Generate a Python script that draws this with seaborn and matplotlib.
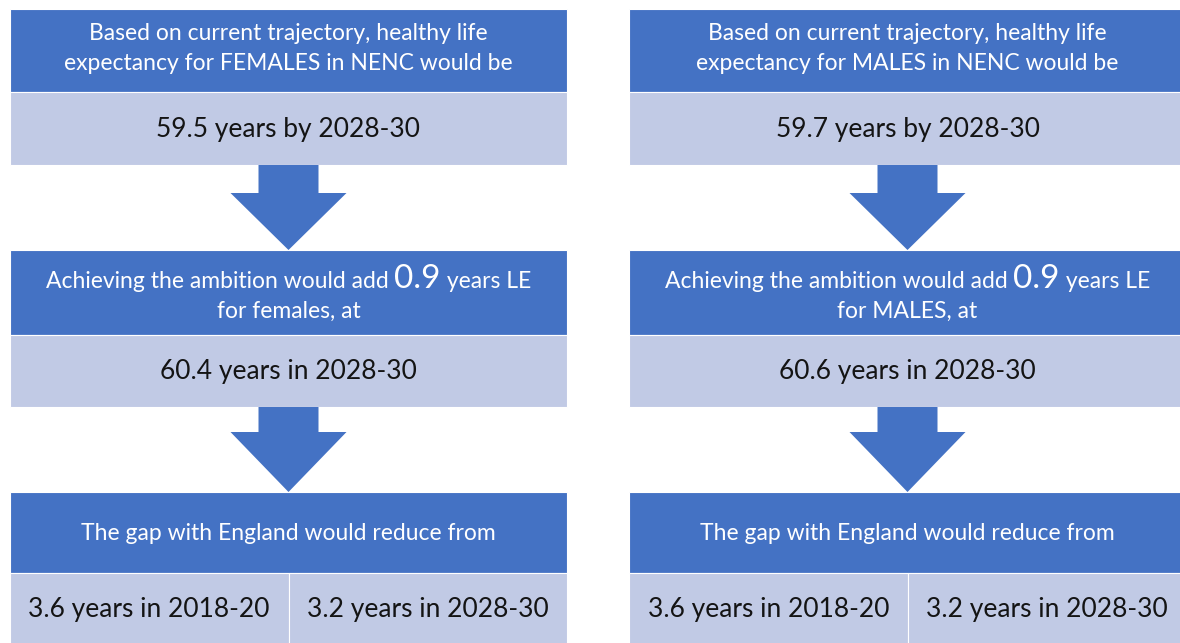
import matplotlib
matplotlib.use("Agg")
import matplotlib.pyplot as plt
import seaborn as sns
from matplotlib.patches import Rectangle, Polygon
from matplotlib.offsetbox import TextArea, HPacker, AnnotationBbox

sns.set_theme(style="white")
plt.rcParams['font.family'] = ['Lato', 'DejaVu Sans']

# content of the two flow panels
groups = ['FEMALES', 'MALES']
group_lower = ['females', 'MALES']
trajectory_hle = [59.5, 59.7]
ambition_gain = [0.9, 0.9]
ambition_hle = [60.4, 60.6]
gap_start = [3.6, 3.6]
gap_end = [3.2, 3.2]
period_now = '2018-20'
period_target = '2028-30'

BLUE = '#4472C4'
LIGHT = '#C1CAE5'
DARK_TEXT = '#141414'
HEAD_FS = 16.5
BODY_FS = 19

fig = plt.figure(figsize=(11.8, 6.43), dpi=100)
ax = fig.add_axes([0, 0, 1, 1])
ax.set_xlim(0, 1180)
ax.set_ylim(643, 0)
ax.axis('off')

panel_left = [10, 629]
panel_w = 557
# vertical layout: (top, bottom) of each block
blue1, light1 = (9, 92), (92, 165)
blue2, light2 = (250, 335), (335, 407)
blue3, light3 = (492, 573), (573, 648)
arrows = [(165, 193, 250), (407, 432, 492)]


def box(x0, y0, y1, w, color):
    ax.add_patch(Rectangle((x0, y0), w, y1 - y0, facecolor=color,
                           edgecolor='white', linewidth=0.8))


def down_arrow(cx, top, neck, tip):
    sw, hw = 30, 58
    pts = [(cx - sw, top), (cx + sw, top), (cx + sw, neck), (cx + hw, neck),
           (cx, tip), (cx - hw, neck), (cx - sw, neck)]
    ax.add_patch(Polygon(pts, closed=True, facecolor=BLUE, edgecolor='none'))


for i, g in enumerate(groups):
    x0 = panel_left[i]
    cx = x0 + panel_w / 2

    # block 1
    box(x0, *blue1, panel_w, BLUE)
    box(x0, *light1, panel_w, LIGHT)
    ax.text(cx, 33, 'Based on current trajectory, healthy life',
            color='white', fontsize=HEAD_FS, ha='center', va='center')
    ax.text(cx, 63, f'expectancy for {g} in NENC would be',
            color='white', fontsize=HEAD_FS, ha='center', va='center')
    ax.text(cx, 129, f'{trajectory_hle[i]:.1f} years by {period_target}',
            color=DARK_TEXT, fontsize=BODY_FS, ha='center', va='center')

    # block 2
    box(x0, *blue2, panel_w, BLUE)
    box(x0, *light2, panel_w, LIGHT)
    parts = HPacker(children=[
        TextArea('Achieving the ambition would add ',
                 textprops=dict(color='white', fontsize=HEAD_FS)),
        TextArea(f'{ambition_gain[i]:.1f}',
                 textprops=dict(color='white', fontsize=24)),
        TextArea(' years LE', textprops=dict(color='white', fontsize=HEAD_FS)),
    ], align='baseline', pad=0, sep=0)
    ax.add_artist(AnnotationBbox(parts, (cx, 279), frameon=False,
                                 box_alignment=(0.5, 0.5), pad=0))
    ax.text(cx, 311, f'for {group_lower[i]}, at',
            color='white', fontsize=HEAD_FS, ha='center', va='center')
    ax.text(cx, 372, f'{ambition_hle[i]:.1f} years in {period_target}',
            color=DARK_TEXT, fontsize=BODY_FS, ha='center', va='center')

    # block 3
    box(x0, *blue3, panel_w, BLUE)
    box(x0, light3[0], light3[1], panel_w / 2, LIGHT)
    box(cx, light3[0], light3[1], panel_w / 2, LIGHT)
    ax.text(cx, 533, 'The gap with England would reduce from',
            color='white', fontsize=HEAD_FS, ha='center', va='center')
    ax.text(x0 + panel_w / 4, 610, f'{gap_start[i]:.1f} years in {period_now}',
            color=DARK_TEXT, fontsize=BODY_FS, ha='center', va='center')
    ax.text(x0 + 3 * panel_w / 4, 610, f'{gap_end[i]:.1f} years in {period_target}',
            color=DARK_TEXT, fontsize=BODY_FS, ha='center', va='center')

    for top, neck, tip in arrows:
        down_arrow(cx, top, neck, tip)

fig.savefig('out.png', dpi=100)
